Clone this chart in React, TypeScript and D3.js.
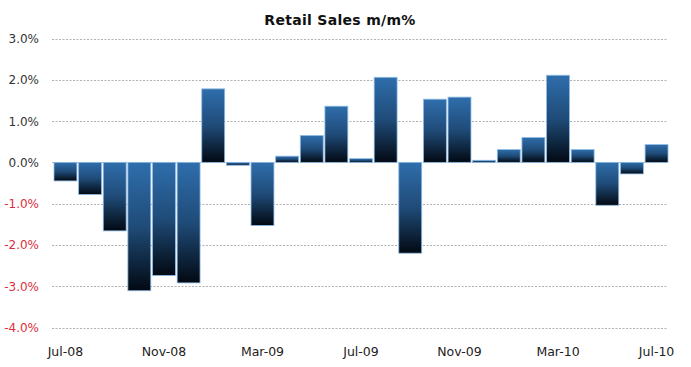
import React, { useEffect } from "react";
import * as d3 from "d3";

const months = [
  "Jul-08", "Aug-08", "Sep-08", "Oct-08", "Nov-08", "Dec-08",
  "Jan-09", "Feb-09", "Mar-09", "Apr-09", "May-09", "Jun-09",
  "Jul-09", "Aug-09", "Sep-09", "Oct-09", "Nov-09", "Dec-09",
  "Jan-10", "Feb-10", "Mar-10", "Apr-10", "May-10", "Jun-10", "Jul-10",
];
const salesMoM = [
  -0.45, -0.78, -1.66, -3.11, -2.74, -2.92,
  1.78, -0.07, -1.53, 0.15, 0.65, 1.36,
  0.09, 2.06, -2.2, 1.53, 1.58, 0.05,
  0.31, 0.6, 2.11, 0.31, -1.04, -0.28, 0.43,
];
const yTicks = [3, 2, 1, 0, -1, -2, -3, -4];
const xTickLabels = ["Jul-08", "Nov-08", "Mar-09", "Jul-09", "Nov-09", "Mar-10", "Jul-10"];

const W = 691;
const H = 367;
const FONT = "'DejaVu Sans', Verdana, sans-serif";

export default function App() {
  useEffect(() => {
    document.body.style.margin = "0";
  }, []);

  const x = d3.scaleBand<string>()
    .domain(months)
    .range([54, 668])
    .paddingInner(0.07)
    .paddingOuter(0);

  const y = d3.scaleLinear().domain([-4, 3]).range([327.5, 38.5]);

  return (
    <svg width={W} height={H} style={{ display: "block", background: "#fff" }}>
      <defs>
        <linearGradient id="barGrad" x1="0" y1="0" x2="0" y2="1">
          <stop offset="0%" stopColor="#2f6eac" />
          <stop offset="50%" stopColor="#1f4b78" />
          <stop offset="100%" stopColor="#020912" />
        </linearGradient>
      </defs>

      <text x={340} y={25} textAnchor="middle" fontFamily={FONT} fontWeight="bold" fontSize={14}
        letterSpacing={0.3} fill="#111">
        Retail Sales m/m%
      </text>

      {/* gridlines */}
      {yTicks.map(t => (
        <line key={t} x1={52} x2={667} y1={Math.round(y(t)) + 0.5} y2={Math.round(y(t)) + 0.5}
          stroke="#b0b0b0" strokeWidth={1} strokeDasharray="2,1.5" />
      ))}

      {/* y labels */}
      {yTicks.map(t => (
        <text key={"l" + t} x={39} y={y(t) + 4.5} textAnchor="end" fontFamily={FONT} fontSize={12}
          fill={t < 0 ? "#dc2f3c" : "#333"}>
          {t.toFixed(1) + "%"}
        </text>
      ))}

      {/* bars */}
      {salesMoM.map((v, i) => {
        const y0 = y(Math.max(v, 0));
        const h = Math.abs(y(v) - y(0));
        return (
          <rect key={months[i]} x={x(months[i])} y={y0} width={x.bandwidth()} height={Math.max(h, 1.5)}
            fill="url(#barGrad)" stroke="#8dbbe6" strokeWidth={0.8} />
        );
      })}

      {/* x labels */}
      {xTickLabels.map(m => (
        <text key={m} x={(x(m) ?? 0) + x.bandwidth() / 2} y={356} textAnchor="middle" fontFamily={FONT}
          fontSize={12.5} fill="#222">
          {m}
        </text>
      ))}
    </svg>
  );
}
